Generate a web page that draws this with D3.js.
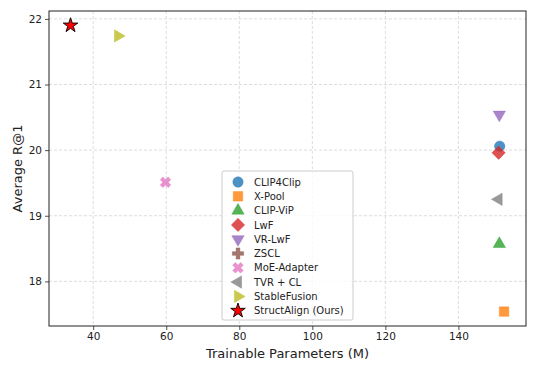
<!DOCTYPE html>
<html>
<head>
<meta charset="utf-8">
<script src="https://cdn.jsdelivr.net/npm/d3@7"></script>
<style>
  body { margin: 0; background: #fff; }
  text { font-family: "DejaVu Sans", sans-serif; fill: #222; }
</style>
</head>
<body>
<div class="canvas"></div>
<script>
// data
const methods = ['CLIP4Clip', 'X-Pool', 'CLIP-ViP', 'LwF', 'VR-LwF', 'ZSCL', 'MoE-Adapter', 'TVR + CL', 'StableFusion', 'StructAlign (Ours)'];
const params = [151.3, 152.5, 151.2, 151.0, 151.2, null, 59.8, 151.0, 46.8, 33.8];
const recall = [20.06, 17.54, 18.57, 19.96, 20.54, null, 19.51, 19.25, 21.74, 21.90];
const shapes = ['circle', 'square', 'triangle', 'diamond', 'triangleDown', 'plus', 'xcross', 'triangleLeft', 'triangleRight', 'star'];
const colors = ['#1f77b4', '#ff7f0e', '#2ca02c', '#d62728', '#9467bd', '#8c564b', '#e377c2', '#7f7f7f', '#bcbd22', '#ff0000'];
const xTicks = [40, 60, 80, 100, 120, 140];
const yTicks = [18, 19, 20, 21, 22];

const dims = { width: 537, height: 373 };
const margin = { left: 49, right: 11, top: 11, bottom: 47 };

const svg = d3.select('.canvas')
    .append('svg')
    .attr('width', dims.width)
    .attr('height', dims.height);

const x = d3.scaleLinear().domain([27.9, 158.5]).range([margin.left, dims.width - margin.right]);
const y = d3.scaleLinear().domain([17.32, 22.12]).range([dims.height - margin.bottom, margin.top]);

// grid
const grid = svg.append('g');
grid.selectAll('.gx').data(xTicks).enter().append('line')
    .attr('x1', d => x(d)).attr('x2', d => x(d))
    .attr('y1', y.range()[1]).attr('y2', y.range()[0])
    .attr('stroke', '#ddd').attr('stroke-dasharray', '3,2');
grid.selectAll('.gy').data(yTicks).enter().append('line')
    .attr('y1', d => y(d)).attr('y2', d => y(d))
    .attr('x1', x.range()[0]).attr('x2', x.range()[1])
    .attr('stroke', '#ddd').attr('stroke-dasharray', '3,2');

// marker path generator
const markerPath = (shape, s) => {
    if (shape.startsWith('triangle')) return d3.symbol(d3.symbolTriangle, s)();
    if (shape === 'plus' || shape === 'xcross') return d3.symbol(d3.symbolCross, s)();
    if (shape === 'square' || shape === 'diamond') return d3.symbol(d3.symbolSquare, s)();
    if (shape === 'star') return d3.symbol(d3.symbolStar, s)();
    return d3.symbol(d3.symbolCircle, s)();
};
const rotation = { triangleDown: 180, triangleLeft: -90, triangleRight: 90, xcross: 45, diamond: 45 };
const sizes = { circle: 85, square: 90, triangle: 66, diamond: 88, triangleDown: 66, plus: 70, xcross: 70, triangleLeft: 66, triangleRight: 66, star: 66 };

const drawMarker = (g, i, cx, cy) => {
    const shape = shapes[i];
    const isOurs = shape === 'star';
    g.append('path')
        .attr('d', markerPath(shape, sizes[shape]))
        .attr('transform', `translate(${cx},${cy}) rotate(${rotation[shape] || 0})`)
        .attr('fill', colors[i])
        .attr('fill-opacity', isOurs ? 1 : 0.8)
        .attr('stroke', isOurs ? '#000' : colors[i])
        .attr('stroke-opacity', isOurs ? 1 : 0.8)
        .attr('stroke-width', isOurs ? 0.9 : 0.5);
};

const points = svg.append('g');
methods.forEach((m, i) => {
    if (params[i] == null) return;
    drawMarker(points, i, x(params[i]), y(recall[i]));
});

// axes
const xAxis = d3.axisBottom(x).tickValues(xTicks).tickSize(4).tickPadding(3).tickFormat(d3.format('d'));
const yAxis = d3.axisLeft(y).tickValues(yTicks).tickSize(4).tickPadding(3).tickFormat(d3.format('d'));
svg.append('g').attr('transform', `translate(0,${y.range()[0]})`).call(xAxis)
    .call(g => g.select('.domain').remove());
svg.append('g').attr('transform', `translate(${x.range()[0]},0)`).call(yAxis)
    .call(g => g.select('.domain').remove());
svg.selectAll('.tick text').attr('font-size', 10.5).attr('font-family', '"DejaVu Sans", sans-serif').attr('fill', '#222');
svg.selectAll('.tick line').attr('stroke', '#222').attr('stroke-width', 0.8);

svg.append('rect')
    .attr('x', x.range()[0]).attr('y', y.range()[1])
    .attr('width', x.range()[1] - x.range()[0])
    .attr('height', y.range()[0] - y.range()[1])
    .attr('fill', 'none').attr('stroke', '#222').attr('stroke-width', 1);

// labels
svg.append('text')
    .attr('x', (x.range()[0] + x.range()[1]) / 2).attr('y', 358)
    .attr('text-anchor', 'middle').attr('font-size', 13)
    .text('Trainable Parameters (M)');
svg.append('text')
    .attr('transform', `translate(22,${(y.range()[0] + y.range()[1]) / 2}) rotate(-90)`)
    .attr('text-anchor', 'middle').attr('font-size', 13)
    .text('Average R@1');

// legend
const legendGroup = svg.append('g').attr('transform', 'translate(222,171)');
legendGroup.append('rect')
    .attr('width', 131).attr('height', 149).attr('rx', 2)
    .attr('fill', '#fff').attr('fill-opacity', 0.8)
    .attr('stroke', '#ccc');
methods.forEach((m, i) => {
    const ly = 11 + i * 14.3;
    drawMarker(legendGroup, i, 16, ly);
    legendGroup.append('text')
        .attr('x', 32).attr('y', ly + 3.6)
        .attr('font-size', 10)
        .text(m);
});
</script>
</body>
</html>
